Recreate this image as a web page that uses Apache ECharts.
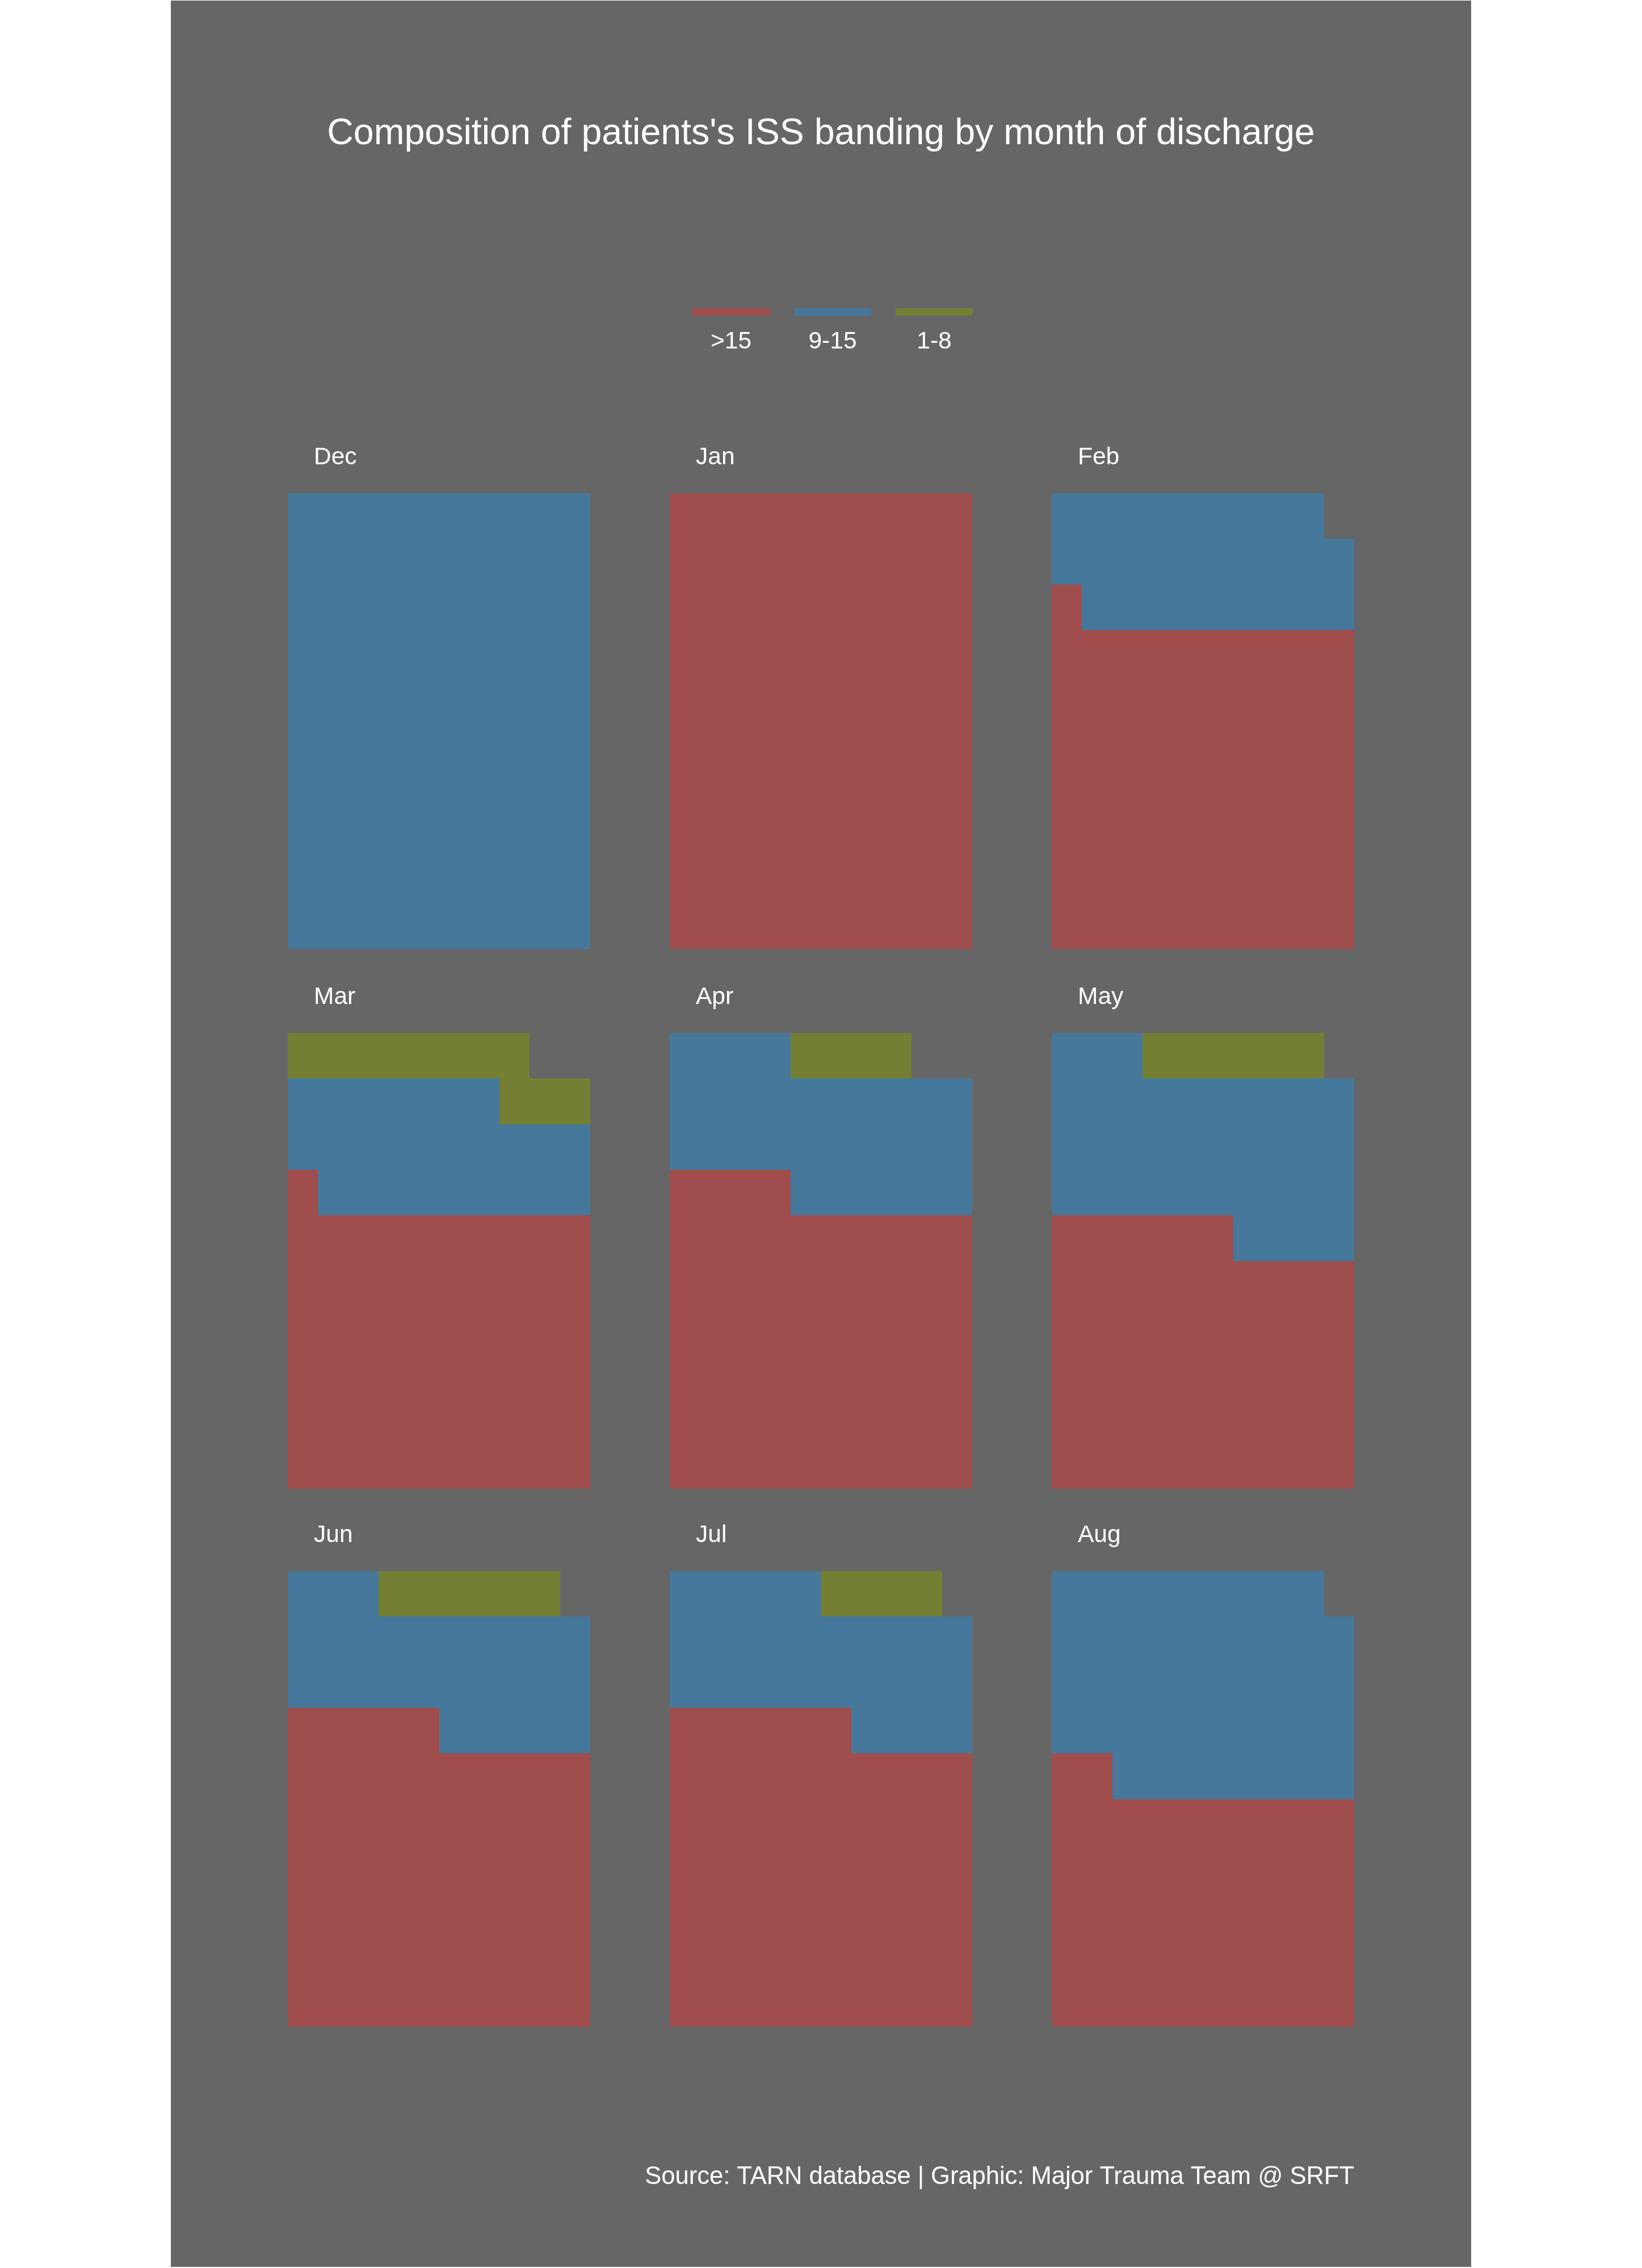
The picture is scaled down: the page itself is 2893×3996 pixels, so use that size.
<!DOCTYPE html>
<html>
<head>
<meta charset="utf-8">
<script src="https://cdn.jsdelivr.net/npm/echarts@6/dist/echarts.min.js"></script>
<style>
html,body{margin:0;padding:0;background:#ffffff;}
#chart{width:2893px;height:3996px;}
</style>
</head>
<body>
<div id="chart"></div>
<script>
// ---- data ----
const months = ['Dec', 'Jan', 'Feb', 'Mar', 'Apr', 'May', 'Jun', 'Jul', 'Aug'];
const bandNames = ['>15', '9-15', '1-8'];
const over15 = [0, 100, 71, 61, 64, 56, 65, 66, 52];
const iss9to15 = [100, 0, 28, 26, 30, 37, 28, 29, 47];
const iss1to8 = [0, 0, 0, 11, 4, 6, 6, 4, 0];
const gridCols = ['0','1','2','3','4','5','6','7','8','9'];
const gridRows = ['0','1','2','3','4','5','6','7','8','9'];

// ---- styles ----
const bandColors = ['#A04D4D', '#46789B', '#747F34'];
const FONT = 'Liberation Sans, Arial, sans-serif';
const panelLeft = [507, 1180, 1853];
const panelTop = [869, 1820, 2768];
const panelW = 533, panelH = 803;

const chart = echarts.init(document.getElementById('chart'), null, {renderer: 'canvas'});

function renderItem(params, api) {
  const p = api.coord([api.value(0), api.value(1)]);
  const s = api.size([1, 1]);
  const x0 = Math.round(p[0] - s[0] / 2), x1 = Math.round(p[0] + s[0] / 2);
  const y0 = Math.round(p[1] - s[1] / 2), y1 = Math.round(p[1] + s[1] / 2);
  return {
    type: 'rect',
    shape: {x: x0, y: y0, width: x1 - x0, height: y1 - y0},
    style: {fill: api.visual('color')}
  };
}

const grids = [], xAxes = [], yAxes = [], series = [], titles = [];
titles.push({
  text: "Composition of patients's ISS banding by month of discharge",
  left: 'center', top: 199,
  textStyle: {color: '#ffffff', fontSize: 64.5, fontWeight: 'normal', fontFamily: FONT}
});

months.forEach((m, i) => {
  const c = i % 3, r = Math.floor(i / 3);
  grids.push({left: panelLeft[c], top: panelTop[r], width: panelW, height: panelH, containLabel: false});
  xAxes.push({type: 'category', gridIndex: i, data: gridCols, show: false, boundaryGap: true});
  yAxes.push({type: 'category', gridIndex: i, data: gridRows, show: false, boundaryGap: true});
  titles.push({
    text: m, left: panelLeft[c] + 41, top: panelTop[r] - 89,
    textStyle: {color: '#ffffff', fontSize: 42.5, fontWeight: 'normal', fontFamily: FONT}
  });
  const counts = [over15[i], iss9to15[i], iss1to8[i]];
  let idx = 0;
  counts.forEach((n, b) => {
    const cells = [];
    for (let k = 0; k < n; k++, idx++) {
      cells.push([idx % 10, Math.floor(idx / 10)]);
    }
    series.push({
      type: 'custom', name: bandNames[b], xAxisIndex: i, yAxisIndex: i,
      renderItem: renderItem, data: cells,
      itemStyle: {color: bandColors[b]},
      encode: {x: 0, y: 1}, silent: true
    });
  });
});

const legendLeft = [1220, 1399, 1578];
const legends = bandNames.map((n, b) => ({
  data: [n], left: legendLeft[b], top: 543, padding: 0,
  icon: 'rect', itemWidth: 136, itemHeight: 13,
  formatter: () => '', selectedMode: false,
  textStyle: {fontSize: 1}
}));

const graphics = [
  {type: 'rect', z: -100, silent: true, shape: {x: 301, y: 1, width: 2291, height: 3993}, style: {fill: '#666666'}}
];
bandNames.forEach((n, b) => {
  graphics.push({
    type: 'text', x: legendLeft[b] + 68, y: 602, silent: true,
    style: {text: n, fill: '#ffffff', font: '42.5px ' + FONT, textAlign: 'center', textVerticalAlign: 'middle'}
  });
});
graphics.push({
  type: 'text', x: 2386, y: 3836, silent: true,
  style: {text: 'Source: TARN database | Graphic: Major Trauma Team @ SRFT', fill: '#ffffff',
          font: '43.5px ' + FONT, textAlign: 'right', textVerticalAlign: 'middle'}
});

chart.setOption({
  backgroundColor: '#ffffff',
  animation: false,
  title: titles,
  legend: legends,
  grid: grids,
  xAxis: xAxes,
  yAxis: yAxes,
  series: series,
  graphic: graphics
});
</script>
</body>
</html>
